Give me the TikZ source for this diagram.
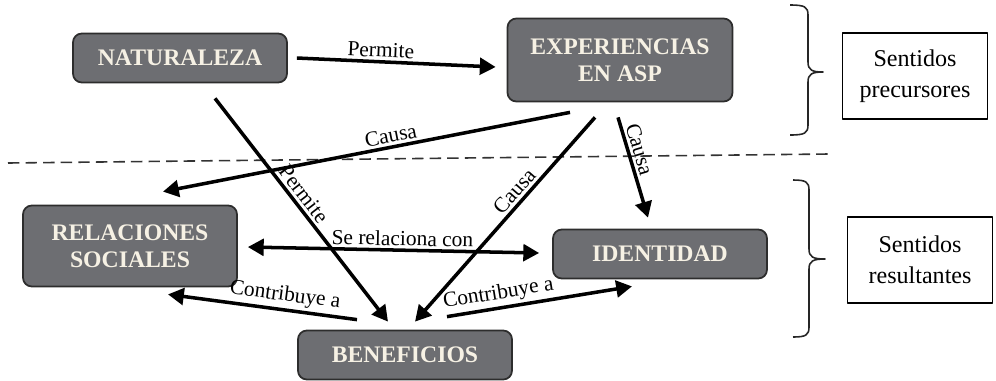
\documentclass[tikz,border=0pt]{standalone}
\usepackage{fontspec}
\setmainfont{Liberation Serif}
\usetikzlibrary{arrows.meta}
\definecolor{gris}{RGB}{109,110,114}
\definecolor{borde}{RGB}{45,45,45}
\definecolor{crema}{RGB}{246,241,228}

\begin{document}
\begin{tikzpicture}[x=0.02cm, y=-0.02cm, line join=round, >={Triangle[length=9pt,width=9.5pt]},
  concepto/.style={draw=borde, line width=1pt, fill=gris, rounded corners=5pt, text=crema,
    font=\fontsize{13.5}{15.5}\selectfont\bfseries, align=center,
    minimum width=4.28cm, minimum height=0.98cm, inner sep=2pt},
  sentido/.style={draw, line width=0.6pt, align=center, font=\fontsize{13.7}{17.5}\selectfont,
    minimum width=2.9cm, minimum height=1.72cm},
  flecha/.style={->, line width=2pt},
  etiqueta/.style={font=\fontsize{12.2}{14}\selectfont, sloped, above, inner sep=1.5pt},
  llave/.style={line width=0.9pt, black!85}]
  \useasboundingbox (0,0) rectangle (996,380);
  % conceptos
  \node[concepto] (nat) at (180,58) {NATURALEZA};
  \node[concepto, minimum width=4.5cm, minimum height=1.66cm] (exp) at (620,60) {EXPERIENCIAS\\EN ASP};
  \node[concepto, minimum height=1.62cm] (rel) at (130,246) {RELACIONES\\SOCIALES};
  \node[concepto] (ide) at (660,254) {IDENTIDAD};
  \node[concepto] (ben) at (405,355) {BENEFICIOS};
  % sentidos
  \node[sentido] (pre) at (915,76) {Sentidos\\precursores};
  \node[sentido] (res) at (920,260) {Sentidos\\resultantes};
  % separacion
  \draw[black!80, line width=0.9pt, dash pattern=on 6.5pt off 3.5pt] (8,163) -- (828,154);
  % llaves
  \draw[llave] (790,5) .. controls (805,5) and (808,7) .. (808,15) -- (808,62)
    .. controls (808,70) and (812,72) .. (823,72) .. controls (812,72) and (808,74) .. (808,82)
    -- (808,125) .. controls (808,133) and (805,135) .. (790,135);
  \draw[llave] (793,180) .. controls (806,180) and (809,182) .. (809,190) -- (809,249)
    .. controls (809,257) and (813,259) .. (825,259) .. controls (813,259) and (809,261) .. (809,269)
    -- (809,327) .. controls (809,335) and (806,337) .. (793,337);
  % relaciones
  \draw[flecha] ([shift={(9,0)}]nat.east) -- node[etiqueta, pos=0.42]{Permite} ([shift={(-11,7)}]exp.west);
  \draw[flecha] ([shift={(-50,10)}]exp.south) -- node[etiqueta, pos=0.435]{Causa} ([shift={(33,-13)}]rel.north);
  \draw[flecha] ([shift={(35,15)}]nat.south) -- node[etiqueta, pos=0.46]{Permite} ([shift={(-17,-8)}]ben.north);
  \draw[flecha] ([shift={(-25,15)}]exp.south) -- node[etiqueta, pos=0.4]{Causa} ([shift={(10,-8)}]ben.north);
  \draw[flecha] ([shift={(-2,15)}]exp.south) -- node[etiqueta, pos=0.35]{Causa} ([shift={(-12,-11)}]ide.north);
  \draw[flecha, <->] ([shift={(10,1)}]rel.east) -- node[etiqueta, pos=0.53]{Se relaciona con} ([shift={(-13,-1)}]ide.west);
  \draw[flecha] ([shift={(-48,-10)}]ben.north) -- node[etiqueta, pos=0.39]{Contribuye a} ([shift={(38,7)}]rel.south);
  \draw[flecha] ([shift={(42,-13)}]ben.north) -- node[etiqueta, pos=0.29]{Contribuye a} ([shift={(-28,7)}]ide.south);
\end{tikzpicture}
\end{document}
